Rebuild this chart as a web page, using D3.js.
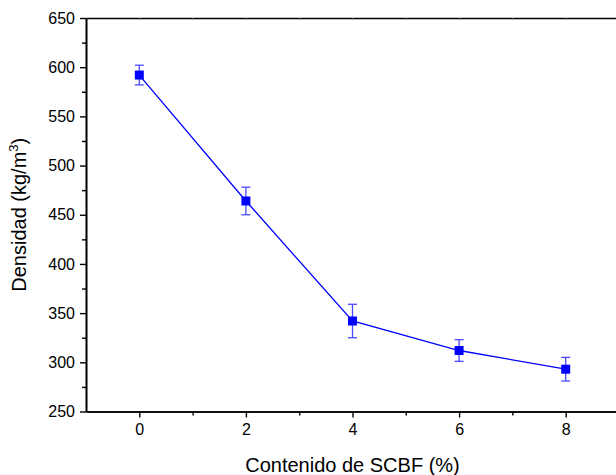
<!DOCTYPE html>
<html><head><meta charset="utf-8">
<script src="https://cdn.jsdelivr.net/npm/d3@7"></script>
<style>body{margin:0;background:#fff}svg{display:block;font-family:"Liberation Sans",Arial,sans-serif}</style>
</head><body>
<svg id="c" width="616" height="475"></svg>
<script>
const xValues = [0, 2, 4, 6, 8];
const densidad = [592, 464, 342, 312, 293];
const errores = [10, 14, 17, 11, 12];
const xTicks = [0, 2, 4, 6, 8];
const yTicks = [250, 300, 350, 400, 450, 500, 550, 600, 650];

const svg = d3.select("#c");
const m = {l: 86, t: 18, r: 619, b: 411.5};
const x = d3.scaleLinear().domain([-1, 9]).range([m.l, m.r]);
const y = d3.scaleLinear().domain([250, 650]).range([m.b, m.t]);

const minorY = d3.range(275, 650, 50);
const minorX = [1, 3, 5, 7];

const gx = svg.append("g").attr("transform", `translate(0,${m.b})`)
  .call(d3.axisBottom(x).tickValues(xTicks).tickSize(6).tickSizeOuter(0).tickPadding(6).tickFormat(d3.format("d")));
gx.append("g").call(d3.axisBottom(x).tickValues(minorX).tickSize(4).tickSizeOuter(0).tickFormat(""));
const gy = svg.append("g").attr("transform", `translate(${m.l},0)`)
  .call(d3.axisLeft(y).tickValues(yTicks).tickSize(6).tickSizeOuter(0).tickPadding(5).tickFormat(d3.format("d")));
gy.append("g").call(d3.axisLeft(y).tickValues(minorY).tickSize(4).tickSizeOuter(0).tickFormat(""));
const gt = svg.append("g").attr("transform", `translate(0,${m.t})`)
  .call(d3.axisBottom(x).tickValues(d3.range(0, 9)).tickSize(2).tickSizeOuter(0).tickFormat(""));
const gr = svg.append("g").attr("transform", `translate(${m.r},0)`)
  .call(d3.axisRight(y).tickValues(yTicks).tickSize(0).tickSizeOuter(0).tickFormat(""));

svg.selectAll(".domain").attr("stroke", "#000").attr("stroke-width", 1.6);
svg.selectAll(".tick line").attr("stroke", "#000").attr("stroke-width", 1.4);
gt.selectAll(".tick line").attr("stroke", "#777").attr("stroke-width", 1);
svg.selectAll(".tick text").attr("font-size", 16).attr("fill", "#000")
  .attr("font-family", "'Liberation Sans',Arial,sans-serif");

const eb = svg.append("g").attr("stroke", "#4a4aff").attr("stroke-width", 1.3);
xValues.forEach((xv, i) => {
  const cx = x(xv), y1 = y(densidad[i] + errores[i]), y0 = y(densidad[i] - errores[i]);
  eb.append("line").attr("x1", cx).attr("x2", cx).attr("y1", y1).attr("y2", y0);
  eb.append("line").attr("x1", cx - 4.5).attr("x2", cx + 4.5).attr("y1", y1).attr("y2", y1);
  eb.append("line").attr("x1", cx - 4.5).attr("x2", cx + 4.5).attr("y1", y0).attr("y2", y0);
});

const line = d3.line().x((d, i) => x(xValues[i])).y(d => y(d));
svg.append("path").datum(densidad).attr("d", line)
  .attr("fill", "none").attr("stroke", "#0000ff").attr("stroke-width", 1.3);

svg.append("g").selectAll("rect").data(densidad).join("rect")
  .attr("x", (d, i) => x(xValues[i]) - 4.5).attr("y", d => y(d) - 4.5)
  .attr("width", 9).attr("height", 9).attr("fill", "#0000ff");

svg.append("text").attr("x", (m.l + m.r) / 2).attr("y", 472)
  .attr("text-anchor", "middle").attr("font-size", 20).text("Contenido de SCBF (%)");

const yt = svg.append("text").attr("transform", `translate(26,${(m.t + m.b) / 2}) rotate(-90)`)
  .attr("text-anchor", "middle").attr("font-size", 20);
yt.append("tspan").text("Densidad (kg/m");
yt.append("tspan").attr("font-size", 13).attr("dy", -8).text("3");
yt.append("tspan").attr("dy", 8).text(")");
</script>
</body></html>
